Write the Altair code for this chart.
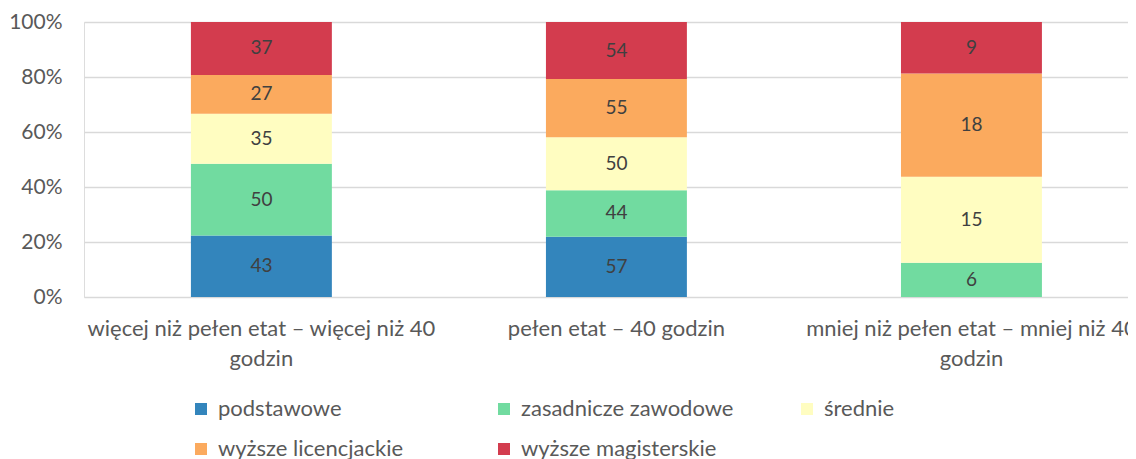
import altair as alt
import pandas as pd

categories = [
    "więcej niż pełen etat – więcej niż 40 godzin",
    "pełen etat – 40 godzin",
    "mniej niż pełen etat – mniej niż 40 godzin",
]
series = [
    "podstawowe",
    "zasadnicze zawodowe",
    "średnie",
    "wyższe licencjackie",
    "wyższe magisterskie",
]
colors = ["#3385BC", "#71DBA0", "#FFFDC1", "#FBAA5E", "#D33C4E"]

podstawowe = [43, 57, 0]
zasadnicze = [50, 44, 6]
srednie = [35, 50, 15]
licencjackie = [27, 55, 18]
magisterskie = [37, 54, 9]

values = [podstawowe, zasadnicze, srednie, licencjackie, magisterskie]
rows = []
for si, (s, vals) in enumerate(zip(series, values)):
    for c, v in zip(categories, vals):
        rows.append({"cat": c, "series": s, "order": si, "value": v})
df = pd.DataFrame(rows)

FONT = "Lato"
GREY = "#595959"

base = alt.Chart(df).transform_stack(
    stack="value",
    groupby=["cat"],
    as_=["v0", "v1"],
    offset="normalize",
    sort=[alt.SortField("order", order="ascending")],
).transform_calculate(mid="(datum.v0 + datum.v1) / 2")

x_enc = alt.X(
    "cat:N",
    sort=categories,
    title=None,
    scale=alt.Scale(paddingInner=0.603, paddingOuter=0.2718, align=0.554),
    axis=alt.Axis(
        domain=False,
        ticks=False,
        labelAngle=0,
        labelFont=FONT,
        labelFontSize=22,
        labelColor=GREY,
        labelPadding=21,
        labelLineHeight=30,
        labelLimit=1000,
        labelExpr="indexof(datum.label, 'niż 40') >= 0 ? [replace(datum.label, ' godzin', ''), 'godzin'] : datum.label",
    ),
)

bars = base.mark_bar().encode(
    x=x_enc,
    y=alt.Y(
        "v0:Q",
        title=None,
        scale=alt.Scale(domain=[0, 1]),
        axis=alt.Axis(
            values=[0, 0.2, 0.4, 0.6, 0.8, 1.0],
            format=".0%",
            domain=False,
            ticks=False,
            gridColor="#D9D9D9",
            gridWidth=1.5,
            labelFont=FONT,
            labelFontSize=21,
            labelColor=GREY,
            labelPadding=22,
        ),
    ),
    y2="v1:Q",
    color=alt.Color(
        "series:N",
        scale=alt.Scale(domain=series, range=colors),
        legend=alt.Legend(
            title=None,
            orient="none",
            legendX=106,
            legendY=376,
            direction="horizontal",
            columns=3,
            gridAlign="all",
            columnPadding=62,
            rowPadding=18,
            symbolType="square",
            symbolSize=144,
            symbolStrokeWidth=0,
            labelOffset=6,
            labelLimit=500,
            labelFont=FONT,
            labelFontSize=22,
            labelColor=GREY,
            padding=0,
        ),
    ),
    order=alt.Order("order:Q"),
)

labels = base.transform_filter("datum.value > 0").mark_text(
    font=FONT, fontSize=19, color="#404040"
).encode(
    x=alt.X("cat:N", sort=categories),
    y=alt.Y("mid:Q"),
    text=alt.Text("value:Q"),
)

chart = (
    alt.layer(bars, labels)
    .properties(
        width=1044,
        height=275,
        autosize=alt.AutoSizeParams(type="none"),
        padding={"left": 76, "top": 14, "right": 0, "bottom": 162},
    )
    .configure_view(stroke=None)
    .configure(background="white")
)

chart.save("out.html", embed_options={"renderer": "svg", "actions": False})
